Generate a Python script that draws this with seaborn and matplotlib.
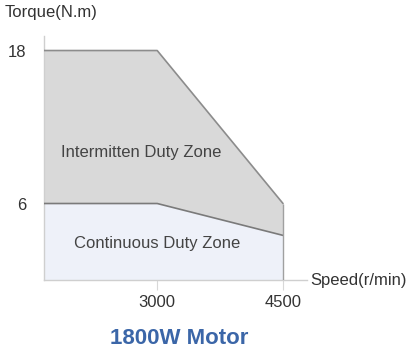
import matplotlib
matplotlib.use("Agg")
import matplotlib.pyplot as plt
import seaborn as sns
import pandas as pd

# Torque–speed envelope for the 1800W servo motor
speed = [1650, 3000, 4500]
intermittent_torque = [18, 18, 6]
continuous_torque = [6, 6, 3.5]
x_ticks = [3000, 4500]
x_tick_labels = ["3000", "4500"]
y_ticks = [6, 18]
y_tick_labels = ["6", "18"]

sns.set_theme(style="white")
plt.rcParams["font.family"] = ["Liberation Sans", "DejaVu Sans"]

fig = plt.figure(figsize=(4.09, 3.56), dpi=100)
ax = fig.add_axes([44 / 409, 76 / 356, 263 / 409, 244 / 356])

df = pd.DataFrame({"speed": speed,
                   "intermittent": intermittent_torque,
                   "continuous": continuous_torque})

# Zones
ax.fill_between(df["speed"], df["continuous"], df["intermittent"],
                color="#d9d9d9", linewidth=0, zorder=1)
ax.fill_between(df["speed"], 0, df["continuous"],
                color="#eef1f9", linewidth=0, zorder=1)

# Outlines
sns.lineplot(data=df, x="speed", y="intermittent", ax=ax, color="#8c8c8c",
             linewidth=1.2, zorder=3)
sns.lineplot(data=df, x="speed", y="continuous", ax=ax, color="#7a7a7a",
             linewidth=1.2, zorder=3)
ax.vlines(speed[-1], 0, intermittent_torque[-1], color="#a0a0a0",
          linewidth=1.0, zorder=3)

ax.text(2810, 10.0, "Intermitten Duty Zone", ha="center", va="center",
        fontsize=12, color="#444444", zorder=4)
ax.text(3000, 2.9, "Continuous Duty Zone", ha="center", va="center",
        fontsize=12, color="#444444", zorder=4)

ax.set_xlim(1650, 4786)
ax.set_ylim(0, 19.14)

for side in ("top", "right"):
    ax.spines[side].set_visible(False)
for side in ("left", "bottom"):
    ax.spines[side].set_color("#cfcfcf")
    ax.spines[side].set_linewidth(1.0)

ax.set_xticks(x_ticks)
ax.set_xticklabels(x_tick_labels)
ax.set_yticks(y_ticks)
ax.set_yticklabels(y_tick_labels)
ax.tick_params(axis="x", length=7, width=0.8, color="#d8d8d8", direction="out",
               pad=4, labelsize=12, labelcolor="#333333", bottom=True)
ax.tick_params(axis="y", length=0, pad=13, labelsize=12, labelcolor="#333333")
ax.set_xlabel("")
ax.set_ylabel("")

fig.text(5 / 409, 1 - 13 / 356, "Torque(N.m)", ha="left", va="center",
         fontsize=12, color="#333333")
fig.text(310 / 409, 1 - 281 / 356, "Speed(r/min)", ha="left", va="center",
         fontsize=12, color="#333333")
fig.text(179 / 409, 1 - 339 / 356, "1800W Motor", ha="center", va="center",
         fontsize=16, fontweight="bold", color="#3b66a8")

fig.savefig("out.png", dpi=100, facecolor="white")
